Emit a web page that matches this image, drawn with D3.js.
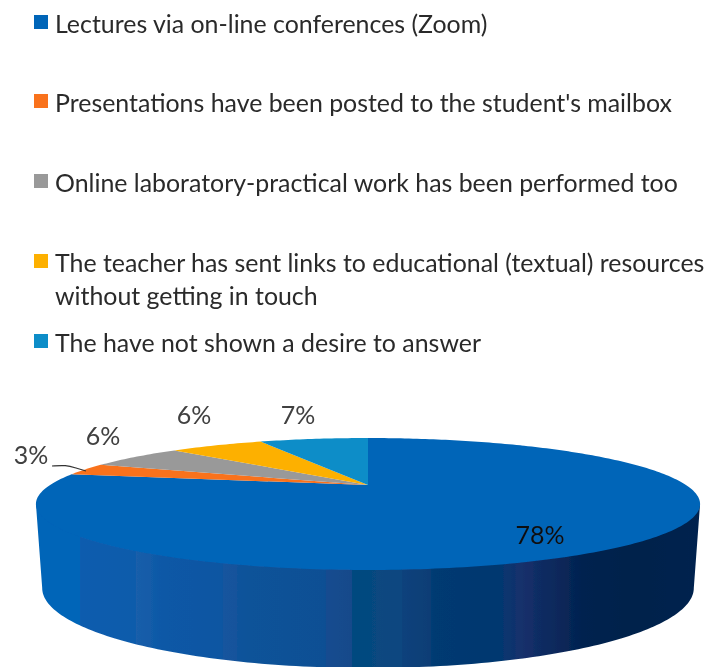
<!DOCTYPE html>
<html>
<head>
<meta charset="utf-8">
<script src="https://cdn.jsdelivr.net/npm/d3@7"></script>
<style>
  html, body { margin: 0; background: #fff; }
  svg { display: block; }
  text { font-family: Lato, "Open Sans", sans-serif; }
</style>
</head>
<body>
<svg id="chart"></svg>
<script>
// data
const categories = [
  "Lectures via on-line conferences (Zoom)",
  "Presentations have been posted to the student's mailbox",
  "Online laboratory-practical work has been performed too",
  "The teacher has sent links to educational (textual) resources\nwithout getting in touch",
  "The have not shown a desire to answer"
];
const shares = [78, 3, 6, 6, 7];
const sliceColors = ["#0565b8", "#f9721c", "#999999", "#fdb000", "#0a8dc8"];

// layout
const width = 710, height = 667;
const legendRows = [33, 112, 192, 272, 352];
const labelSpots = [[540, 544], [31, 464], [103, 445], [194, 424], [298, 424]];
const tilt = 0.288; // perspective of the disc
const topDisc = { cx: 368, cy: 485, rx: 318, ry: 60.5 };
const baseDisc = { cx: 368, cy: 565, rx: 312, ry: 73.4 };

const svg = d3.select("#chart").attr("width", width).attr("height", height);
const defs = svg.append("defs");
const color = d3.scaleOrdinal(categories, sliceColors);

defs.append("filter").attr("id", "soft")
  .append("feGaussianBlur").attr("stdDeviation", 0.45);

// the banded shading on the rim
const sideBands = [
  [0, "#0565b8"], [0.066, "#0565b8"], [0.067, "#115cae"], [0.15, "#0f5cab"], [0.151, "#1a5eaa"],
  [0.195, "#0a58a6"], [0.28, "#0b56a2"], [0.281, "#17549e"], [0.32, "#0d5299"], [0.435, "#0b5094"],
  [0.436, "#184c90"], [0.475, "#154a8a"], [0.476, "#03497f"], [0.55, "#0b4680"], [0.551, "#11427c"],
  [0.59, "#0c3e76"], [0.6, "#003a72"], [0.7, "#05376f"], [0.73, "#17306c"], [0.76, "#0e2c62"],
  [0.824, "#03224f"], [0.9, "#02214b"], [1, "#03234f"]
];
const sideGrad = defs.append("linearGradient").attr("id", "side")
  .attr("gradientUnits", "userSpaceOnUse")
  .attr("x1", topDisc.cx - 332).attr("x2", topDisc.cx + 333)
  .attr("y1", 0).attr("y2", 0);
sideGrad.selectAll("stop").data(sideBands).join("stop")
  .attr("offset", d => d[0]).attr("stop-color", d => d[1]);

// angle clockwise from 12 o'clock, onto the screen
function project(disc, a, r = 1) {
  const u = r * Math.sin(a), v = -r * Math.cos(a), w = 1 - tilt * v;
  return [disc.cx + disc.rx * u / w, disc.cy + disc.ry * v / w];
}
function arcPoints(disc, a0, a1) {
  const n = Math.max(2, Math.ceil(Math.abs(a1 - a0) * 60));
  return d3.range(n + 1).map(i => project(disc, a0 + (a1 - a0) * i / n));
}

const line = d3.line();
const pie = d3.pie().sort(null).value(d => d.share);
const arcs = pie(categories.map((name, i) => ({ name, share: shares[i] })));
const chart = svg.append("g").attr("filter", "url(#soft)");

// rim, closed along a chord under the top so no seam shows
const edge = Math.acos(-tilt);
const rim = arcPoints(baseDisc, edge, 2 * Math.PI - edge)
  .concat([project(topDisc, 2 * Math.PI - edge), project(topDisc, edge)]);
chart.append("path").attr("d", line(rim) + "Z").attr("fill", "url(#side)");

// top of the disc
chart.selectAll("path.slice").data(arcs).join("path")
  .attr("class", "slice")
  .attr("d", d => line([[topDisc.cx, topDisc.cy], ...arcPoints(topDisc, d.startAngle, d.endAngle)]) + "Z")
  .attr("fill", d => color(d.data.name));

// leader for the 3% label
const leader = d3.line().curve(d3.curveBasis);
chart.append("path")
  .attr("d", leader([[52, 466], [66, 465], [76, 468], [86, 471]]))
  .attr("fill", "none").attr("stroke", "#333").attr("stroke-width", 1.2);

// value labels
chart.selectAll("text.value").data(arcs).join("text")
  .attr("class", "value")
  .attr("x", (d, i) => labelSpots[i][0])
  .attr("y", (d, i) => labelSpots[i][1])
  .attr("text-anchor", "middle")
  .attr("font-size", 25)
  .attr("fill", (d, i) => i === 0 ? "#111" : "#404040")
  .text(d => d.data.share + "%");

// legend
const legend = chart.selectAll("g.legend").data(categories).join("g")
  .attr("class", "legend")
  .attr("transform", (d, i) => `translate(0,${legendRows[i]})`);
legend.append("rect")
  .attr("x", 34).attr("y", -18).attr("width", 14).attr("height", 14)
  .attr("fill", d => color(d));
legend.append("text")
  .attr("font-size", 24.9).attr("fill", "#2a2a2a")
  .selectAll("tspan").data(d => d.split("\n")).join("tspan")
  .attr("x", 55).attr("dy", (d, i) => i ? 33 : 0)
  .text(d => d);
</script>
</body>
</html>
